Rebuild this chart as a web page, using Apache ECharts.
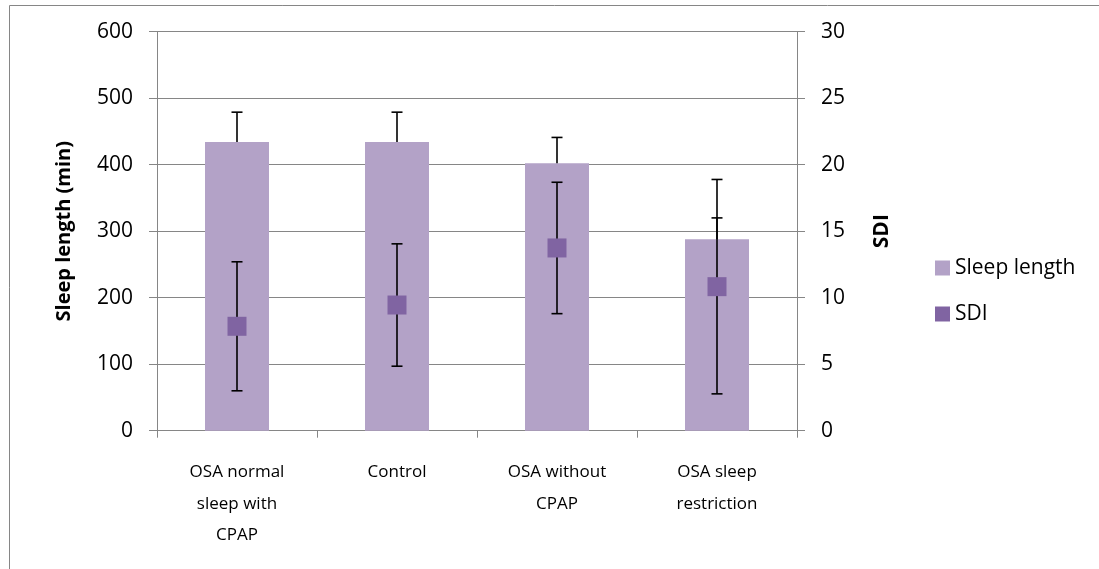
<!DOCTYPE html>
<html>
<head>
<meta charset="utf-8">
<script src="https://cdn.jsdelivr.net/npm/echarts@6/dist/echarts.min.js"></script>
<style>
html,body{margin:0;padding:0;background:#fff;}
#chart{width:1099px;height:569px;}
</style>
</head>
<body>
<div id="chart"></div>
<script>
const categories = ["OSA normal\nsleep with\nCPAP", "Control", "OSA without\nCPAP", "OSA sleep\nrestriction"];
const sleepLength = [434, 434, 402, 288];
const sleepLengthErr = [45, 45, 39, 32];
const sdi = [7.85, 9.45, 13.74, 10.83];
const sdiErr = [4.85, 4.6, 4.94, 8.06];
const leftTicks = [0, 100, 200, 300, 400, 500, 600];
const rightTicks = [0, 5, 10, 15, 20, 25, 30];

const FONT = "Open Sans";
const GRAY = "#868686";
const chart = echarts.init(document.getElementById('chart'), null, {renderer: 'canvas'});

function errRender(values, errs, upperOnly) {
  return function (params, api) {
    const i = api.value(0);
    const v = values[i], e = errs[i];
    const top = api.coord([i, v + e]);
    const bot = api.coord([i, upperOnly ? v : v - e]);
    const cap = 5.5;
    const style = {stroke: '#000', lineWidth: 1.6};
    const children = [
      {type: 'line', shape: {x1: top[0], y1: top[1], x2: bot[0], y2: bot[1]}, style: style},
      {type: 'line', shape: {x1: top[0] - cap, y1: top[1], x2: top[0] + cap, y2: top[1]}, style: style}
    ];
    if (!upperOnly) {
      children.push({type: 'line', shape: {x1: bot[0] - cap, y1: bot[1], x2: bot[0] + cap, y2: bot[1]}, style: style});
    }
    return {type: 'group', children: children};
  };
}

const option = {
  animation: false,
  backgroundColor: '#fff',
  textStyle: {fontFamily: FONT},
  graphic: [{
    type: 'rect',
    shape: {x: 9.5, y: 5.5, width: 1200, height: 700},
    style: {fill: 'none', stroke: GRAY, lineWidth: 1},
    silent: true
  }],
  grid: {left: 157, right: 302, top: 31.7, bottom: 138.3},
  legend: {
    orient: 'vertical',
    left: 930,
    top: 251,
    itemWidth: 15,
    itemHeight: 15,
    itemGap: 22,
    textStyle: {fontFamily: FONT, fontSize: 21, lineHeight: 24, color: '#000'},
    data: [
      {name: 'Sleep length', icon: 'rect'},
      {name: 'SDI', icon: 'rect'}
    ]
  },
  xAxis: {
    type: 'category',
    data: categories,
    axisLine: {lineStyle: {color: GRAY, width: 1}},
    axisTick: {show: true, alignWithLabel: false, length: 7, lineStyle: {color: GRAY}},
    axisLabel: {color: '#000', fontFamily: FONT, fontSize: 17, lineHeight: 31.5, margin: 26, interval: 0}
  },
  yAxis: [{
    type: 'value',
    min: 0, max: 600, interval: 100,
    name: 'Sleep length (min)',
    nameLocation: 'middle',
    nameRotate: 90,
    nameGap: 83,
    nameTextStyle: {color: '#000', fontFamily: FONT, fontSize: 20, fontWeight: 'bold'},
    axisLine: {show: true, lineStyle: {color: GRAY, width: 1}},
    axisTick: {show: true, length: 8, lineStyle: {color: GRAY}},
    axisLabel: {color: '#000', fontFamily: FONT, fontSize: 21, margin: 24,
      formatter: function (v) { return leftTicks.indexOf(v) >= 0 ? String(v) : ''; }},
    splitLine: {show: true, lineStyle: {color: GRAY, width: 1}}
  }, {
    type: 'value',
    position: 'right',
    min: 0, max: 30, interval: 5,
    name: 'SDI',
    nameLocation: 'middle',
    nameRotate: 90,
    nameGap: 75,
    nameTextStyle: {color: '#000', fontFamily: FONT, fontSize: 21, fontWeight: 'bold'},
    axisLine: {show: true, lineStyle: {color: GRAY, width: 1}},
    axisTick: {show: true, length: 8, lineStyle: {color: GRAY}},
    axisLabel: {color: '#000', fontFamily: FONT, fontSize: 21, margin: 24,
      formatter: function (v) { return rightTicks.indexOf(v) >= 0 ? String(v) : ''; }},
    splitLine: {show: false}
  }],
  series: [{
    name: 'Sleep length',
    type: 'bar',
    data: sleepLength,
    barWidth: '40%',
    itemStyle: {color: '#b3a2c7'},
    z: 2
  }, {
    name: 'sleepErr',
    type: 'custom',
    data: sleepLength.map(function (v, i) { return [i, v]; }),
    renderItem: errRender(sleepLength, sleepLengthErr, true),
    z: 3,
    silent: true
  }, {
    name: 'sdiErr',
    type: 'custom',
    yAxisIndex: 1,
    data: sdi.map(function (v, i) { return [i, v]; }),
    renderItem: errRender(sdi, sdiErr, false),
    z: 4,
    silent: true
  }, {
    name: 'SDI',
    type: 'scatter',
    yAxisIndex: 1,
    data: sdi,
    symbol: 'rect',
    symbolSize: 19,
    itemStyle: {color: '#8064a2', opacity: 1},
    z: 5
  }]
};
chart.setOption(option);
</script>
</body>
</html>
